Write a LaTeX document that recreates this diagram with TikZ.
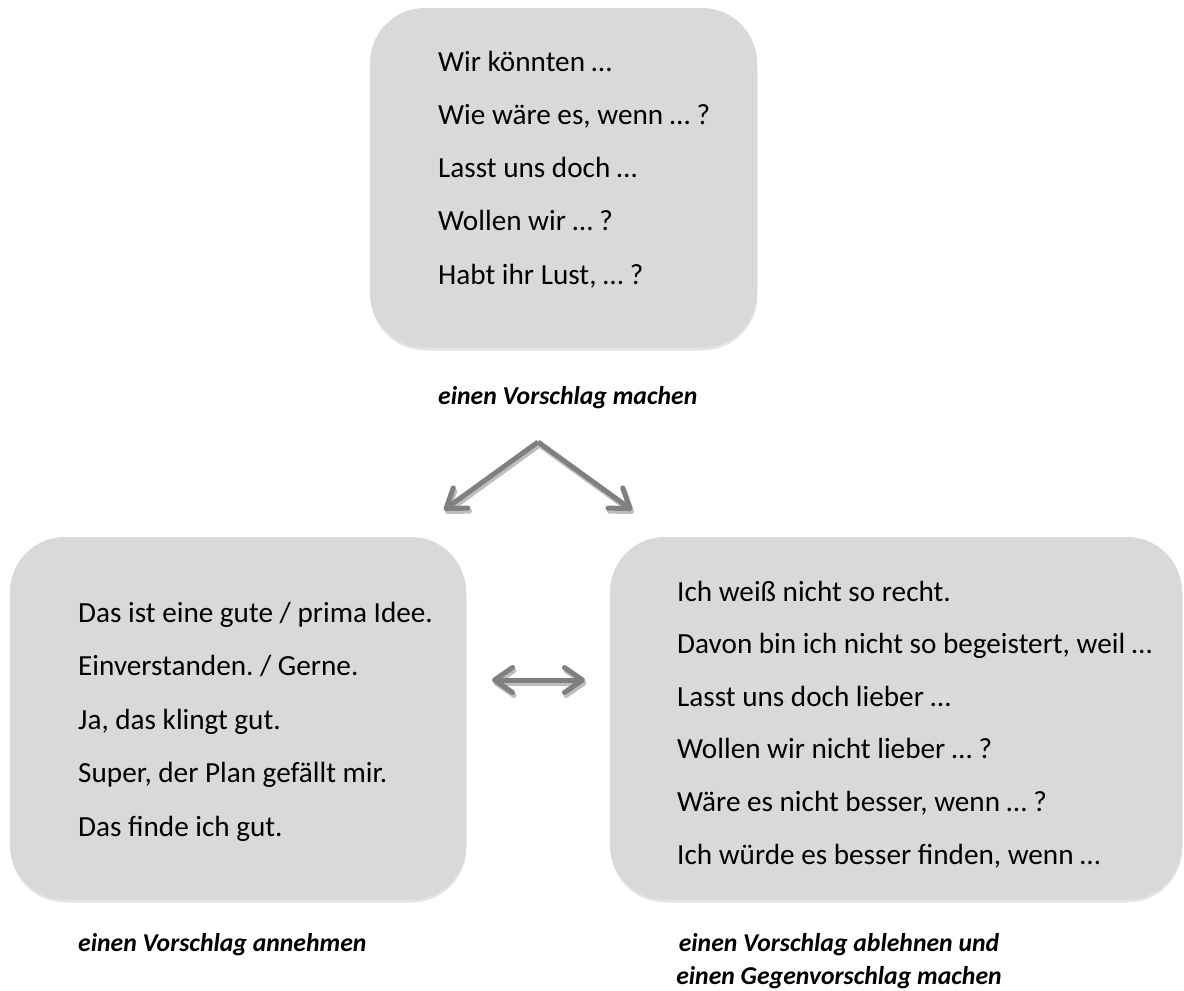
\documentclass[tikz,border=0pt]{standalone}
\usepackage{fontspec}
\setmainfont{Carlito}
\frenchspacing
\usetikzlibrary{arrows.meta,shadows}
\definecolor{boxfill}{RGB}{217,217,217}
\definecolor{arrowgray}{RGB}{128,128,128}
\definecolor{arrowshade}{RGB}{190,190,190}
\tikzset{
  phrasebox/.style={fill=boxfill, draw=none, rounded corners=55pt, inner sep=0pt, outer sep=0pt,
    drop shadow={shadow xshift=0.5pt, shadow yshift=-2.5pt, fill=black, opacity=0.10}},
  phrase/.style={anchor=base west, inner sep=0pt, font=\fontsize{29.2}{35}\selectfont},
  caption/.style={inner sep=0pt, font=\fontsize{25.7}{33}\selectfont\bfseries\itshape},
  tipbarb/.tip={Straight Barb[length=18pt, width=25pt, round]},
  arr/.style={draw=arrowgray, line width=5pt, -tipbarb},
  arrs/.style={draw=arrowshade, line width=5pt, -tipbarb,
    transform canvas={xshift=1.5pt, yshift=-3pt}},
  darr/.style={draw=arrowgray, line width=5pt, tipbarb-tipbarb},
  darrs/.style={draw=arrowshade, line width=5pt, tipbarb-tipbarb,
    transform canvas={xshift=1.5pt, yshift=-3pt}},
}
\begin{document}
\begin{tikzpicture}[x=1pt, y=-1pt]
\useasboundingbox (0,0) rectangle (1184,991);
\fill[white] (0,0) rectangle (1184,991);

% boxes
\node[phrasebox, minimum width=387pt, minimum height=340pt] (topbox) at (563.5,178) {};
\node[phrasebox, minimum width=456pt, minimum height=363pt] (leftbox) at (238,718.5) {};
\node[phrasebox, minimum width=572pt, minimum height=363pt] (rightbox) at (896,718.5) {};

% top box phrases
\foreach \t [count=\i] in {Wir könnten …, {Wie wäre es, wenn … ?}, Lasst uns doch …, Wollen wir … ?, {Habt ihr Lust, … ?}}
  \node[phrase] (top\i) at (438, {71+53.3*(\i-1)}) {\t};

% left box phrases
\foreach \t [count=\i] in {Das ist eine gute / prima Idee., Einverstanden. / Gerne., {Ja, das klingt gut.}, {Super, der Plan gefällt mir.}, Das finde ich gut.}
  \node[phrase] (left\i) at (78, {622+53.5*(\i-1)}) {\t};

% right box phrases
\foreach \t [count=\i] in {Ich weiß nicht so recht., {Davon bin ich nicht so begeistert, weil …}, Lasst uns doch lieber …, Wollen wir nicht lieber … ?, {Wäre es nicht besser, wenn … ?}, {Ich würde es besser finden, wenn …}}
  \node[phrase] (right\i) at (677, {601+52.6*(\i-1)}) {\t};

% captions
\node[caption, anchor=base west] (captop) at (438,404) {einen Vorschlag machen};
\node[caption, anchor=base west] (capleft) at (78,951) {einen Vorschlag annehmen};
\node[caption, anchor=base] (capright1) at (839,951) {einen Vorschlag ablehnen und};
\node[caption, anchor=base] (capright2) at (839,984) {einen Gegenvorschlag machen};

% arrows
\coordinate (apex) at (538,442);
\coordinate (tipL) at (444,510);
\coordinate (tipR) at (632,510);
\coordinate (dL) at (492,680);
\coordinate (dR) at (585,680);
\draw[arrs] (apex) -- (tipL);
\draw[arrs] (apex) -- (tipR);
\draw[darrs] (dL) -- (dR);
\draw[arr] (apex) -- (tipL);
\draw[arr] (apex) -- (tipR);
\draw[darr] (dL) -- (dR);
\end{tikzpicture}
\end{document}
